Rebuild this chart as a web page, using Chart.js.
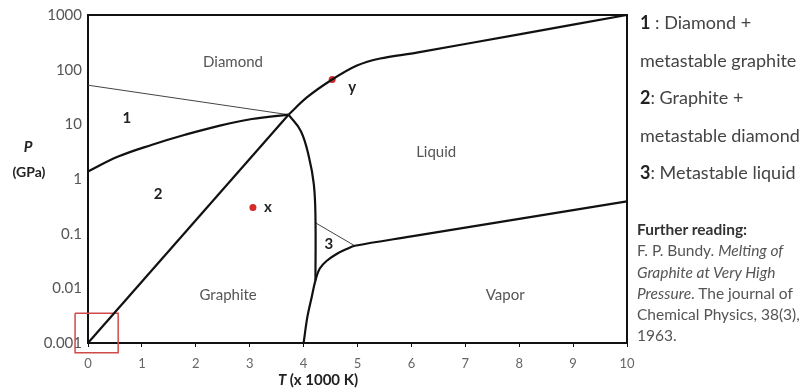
<!DOCTYPE html>
<html>
<head>
<meta charset="utf-8">
<script src="https://cdn.jsdelivr.net/npm/chart.js@4.4.1/dist/chart.umd.min.js"></script>
<style>
body{margin:0;background:#fff;font-family:Lato,"Open Sans",sans-serif;}
#wrap{position:relative;width:808px;height:389px;}
#notes{position:absolute;left:640px;top:4px;font-size:18px;line-height:37.5px;color:#444;white-space:nowrap;}
#notes b{color:#222;}
#ref{position:absolute;left:637px;top:219px;font-size:15.5px;line-height:21.3px;color:#555;white-space:nowrap;}
#ref b{color:#333;}
</style>
</head>
<body>
<div id="wrap">
<canvas id="phaseChart" width="808" height="389"></canvas>
<div id="notes">
<div><b>1</b> : Diamond +</div>
<div>metastable graphite</div>
<div><b>2</b>: Graphite +</div>
<div>metastable diamond</div>
<div><b>3</b>: Metastable liquid</div>
</div>
<div id="ref">
<div><b>Further reading:</b></div>
<div>F. P. Bundy. <i>Melting of</i></div>
<div><i>Graphite at Very High</i></div>
<div><i>Pressure</i>. The journal of</div>
<div>Chemical Physics, 38(3),</div>
<div>1963.</div>
</div>
</div>
<script>
// axis ticks
const xTicks = [0,1,2,3,4,5,6,7,8,9,10];
const yTicks = [0.001,0.01,0.1,1,10,100,1000];
const yTickLabels = ["0.001","0.01","0.1","1","10","100","1000"];

// phase boundaries, T in 1000 K, P in GPa
const graphiteDiamondT = [0,0.56,1.19,1.80,2.41,3.04,3.72];
const graphiteDiamondP = [1.37,2.57,4.24,6.45,9.3,12.5,15];

const metaGraphiteT = [0,3.72];
const metaGraphiteP = [52,15];

const solidLineT = [0,3.72];
const solidLineP = [0.001,15];

const diamondLiquidT = [3.72,4.06,4.53,4.99,5.42,6.10,8.0,10];
const diamondLiquidP = [15,31,66,119,160,205,443,1000];

const graphiteLiquidT = [3.72,3.95,4.10,4.19,4.22,4.22];
const graphiteLiquidP = [15,7.5,2.5,0.8,0.2,0.014];

const vaporT = [4.0,4.07,4.15,4.22,4.30,4.43,4.62,4.81,4.95,6.0,8.0,10];
const vaporP = [0.001,0.003,0.0069,0.014,0.023,0.032,0.043,0.053,0.060,0.089,0.186,0.39];

const metaLiquidT = [4.22,4.95];
const metaLiquidP = [0.158,0.060];

const markT = [3.06,4.53];
const markP = [0.30,66];

// red box round the origin
const boxT = [-0.24,0.56,0.56,-0.24,-0.24];
const boxP = [0.0035,0.0035,0.00066,0.00066,0.0035];

function pts(t,p){ return t.map((v,i)=>({x:v,y:p[i]})); }

// text inside the plot (data coords)
const areaLabels = [
  {text:"Diamond", x:2.69, y:135},
  {text:"1", x:0.72, y:13, bold:true},
  {text:"2", x:1.30, y:0.52, bold:true},
  {text:"Liquid", x:6.46, y:3.16},
  {text:"Graphite", x:2.60, y:0.0075},
  {text:"3", x:4.47, y:0.065, bold:true},
  {text:"Vapor", x:7.74, y:0.0075},
  {text:"x", x:3.34, y:0.30, bold:true},
  {text:"y", x:4.90, y:47, bold:true}
];

const FONT = "Lato, 'Open Sans', sans-serif";

const framePlugin = {
  id:"frame",
  beforeDatasetsDraw(chart){
    const a = chart.chartArea, c = chart.ctx;
    c.save();
    c.strokeStyle = "#111";
    c.lineWidth = 2;
    c.strokeRect(a.left, a.top, a.right-a.left, a.bottom-a.top);
    c.restore();
  }
};

const textPlugin = {
  id:"texts",
  afterDatasetsDraw(chart){
    const c = chart.ctx, xs = chart.scales.x, ys = chart.scales.y;
    c.save();
    c.textAlign = "center";
    c.textBaseline = "middle";
    areaLabels.forEach(l=>{
      c.font = (l.bold ? "bold " : "") + "15px " + FONT;
      c.fillStyle = l.bold ? "#222" : "#555";
      c.fillText(l.text, xs.getPixelForValue(l.x), ys.getPixelForValue(l.y));
    });
    // axis titles
    c.fillStyle = "#222";
    c.font = "italic bold 15px " + FONT;
    c.fillText("P", 28, 147);
    c.font = "bold 14px " + FONT;
    c.fillText("(GPa)", 29, 172);
    c.textAlign = "left";
    c.font = "italic bold 15px " + FONT;
    c.fillText("T", 278, 380);
    const w = c.measureText("T ").width;
    c.font = "bold 15px " + FONT;
    c.fillText("(x 1000 K)", 278 + w, 380);
    c.restore();
  }
};

const thick = {showLine:true, pointRadius:0, borderColor:"#111", borderWidth:2.2, tension:0.4};
const thin = {showLine:true, pointRadius:0, borderColor:"#444", borderWidth:1, tension:0};

new Chart(document.getElementById("phaseChart"), {
  type:"scatter",
  data:{
    datasets:[
      Object.assign({data:pts(graphiteDiamondT,graphiteDiamondP)}, thick),
      Object.assign({data:pts(metaGraphiteT,metaGraphiteP)}, thin),
      Object.assign({data:pts(solidLineT,solidLineP)}, thick, {tension:0}),
      Object.assign({data:pts(diamondLiquidT,diamondLiquidP)}, thick, {tension:0.3}),
      Object.assign({data:pts(graphiteLiquidT,graphiteLiquidP)}, thick),
      Object.assign({data:pts(vaporT,vaporP)}, thick, {tension:0.35}),
      Object.assign({data:pts(metaLiquidT,metaLiquidP)}, thin),
      {data:pts(markT,markP), pointRadius:3.5, pointBackgroundColor:"#d42a2a", pointBorderWidth:0, showLine:false},
      {data:pts(boxT,boxP), showLine:true, pointRadius:0, borderColor:"#d04a4a", borderWidth:1.5, tension:0, clip:false}
    ]
  },
  options:{
    responsive:false,
    animation:false,
    layout:{padding:{top:12, right:181, bottom:0, left:0}},
    plugins:{legend:{display:false}, tooltip:{enabled:false}},
    scales:{
      x:{
        type:"linear", min:0, max:10,
        afterBuildTicks:s=>{ s.ticks = xTicks.map(v=>({value:v})); },
        afterFit:s=>{ s.height = 46; },
        grid:{drawOnChartArea:false, tickLength:4, color:"#111", lineWidth:1},
        border:{display:false},
        ticks:{color:"#666", font:{family:FONT, size:13}, padding:9, maxRotation:0}
      },
      y:{
        type:"logarithmic", min:0.001, max:1000,
        afterBuildTicks:s=>{ s.ticks = yTicks.map(v=>({value:v})); },
        afterFit:s=>{ s.width = 88; },
        grid:{display:false, drawTicks:false},
        border:{display:false},
        ticks:{color:"#555", font:{family:FONT, size:15}, padding:6,
          callback:(v)=>{ const i = yTicks.indexOf(v); return i>=0 ? yTickLabels[i] : ""; }}
      }
    }
  },
  plugins:[framePlugin, textPlugin]
});
</script>
</body>
</html>
